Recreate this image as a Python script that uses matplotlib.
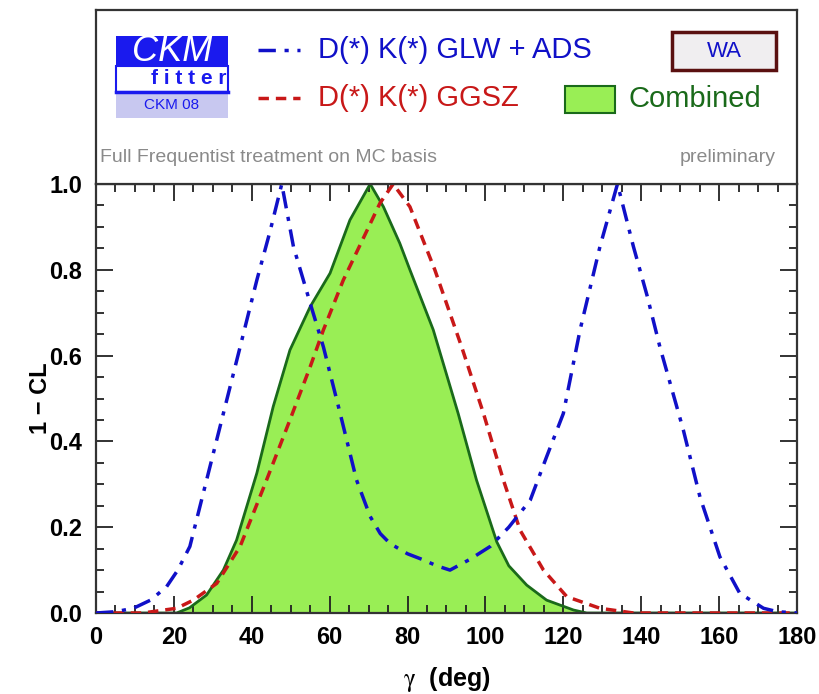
#!/usr/bin/env python3
"""
CKMfitter gamma scan: 1 - CL vs gamma for D(*)K(*) GLW+ADS, GGSZ and combined
"""
import numpy as np
import matplotlib
matplotlib.use('Agg')
import matplotlib.pyplot as plt
from matplotlib.patches import Rectangle
from matplotlib.ticker import MultipleLocator, FormatStrFormatter

plt.rcParams['font.family'] = ['Liberation Sans', 'DejaVu Sans']
plt.rcParams['mathtext.fontset'] = 'stix'
NARROW = ['Liberation Sans Narrow', 'Liberation Sans', 'DejaVu Sans']

# --- data ---
glw_x = [0, 5, 9.6, 14, 18.1, 21, 24.1, 28.4, 32.7, 37, 41.3, 44.7, 47.7, 50.7, 55.4,
         58.4, 62.7, 66.9, 70.4, 73, 75.5, 80, 84, 87.5, 90.9, 96, 101.2, 106, 111.5, 115.7, 120,
         124.3, 129.4, 133.9, 138, 141.5, 144.8, 150.8, 155.1, 160.2, 165.3, 171.4, 175, 180]
glw_y = [0, 0.003, 0.011, 0.03, 0.061, 0.1, 0.155, 0.31, 0.465, 0.62, 0.776, 0.89, 1.0, 0.854, 0.71,
         0.62, 0.465, 0.31, 0.225, 0.185, 0.162, 0.138, 0.124, 0.11, 0.10, 0.125, 0.155, 0.2, 0.263,
         0.364, 0.465, 0.66, 0.854, 1.0, 0.854, 0.74, 0.62, 0.427, 0.27, 0.131, 0.046, 0.011, 0.003, 0]

ggsz_x = [0, 12, 20.7, 25, 31, 37, 43.8, 49.8, 55, 58.4, 63.5, 69.5, 72.9, 76.3, 80.6,
          87, 93.9, 99.5, 104.6, 108.9, 114.9, 120.9, 129.4, 138, 180]
ggsz_y = [0, 0, 0.011, 0.03, 0.069, 0.155, 0.31, 0.45, 0.574, 0.66, 0.776, 0.89, 0.955, 1.0, 0.947,
          0.8, 0.62, 0.465, 0.31, 0.193, 0.10, 0.038, 0.011, 0, 0]

comb_x = [0, 20.7, 24, 28.4, 32.7, 36.1, 41.3, 45.5, 49.8, 55, 60.1, 65.2, 70.4, 73.8, 78,
          80.6, 86.6, 93, 97.7, 102.9, 106, 110.6, 115.7, 122.6, 126, 180]
comb_y = [0, 0, 0.012, 0.042, 0.1, 0.17, 0.326, 0.481, 0.613, 0.714, 0.792, 0.916, 1.0, 0.947, 0.862,
          0.8, 0.66, 0.465, 0.31, 0.166, 0.11, 0.065, 0.03, 0.007, 0, 0]

BLUE = '#1010c8'
RED = '#c81818'
GREEN_FILL = '#99ee55'
GREEN_EDGE = '#1a6a1a'
GLW_LS = (0, (5, 2.5, 1.2, 2.5))
GGSZ_LS = (0, (3, 2))

fig = plt.figure(figsize=(8.2, 6.94), dpi=100)

# --- main plot ---
ax = fig.add_axes([96/820, 81/694, 701/820, 429/694])
ax.fill_between(comb_x, comb_y, 0, color=GREEN_FILL, lw=0, zorder=1)
ax.plot(comb_x, comb_y, color=GREEN_EDGE, lw=2, zorder=2)
ax.plot(ggsz_x, ggsz_y, color=RED, lw=2.5, ls=GGSZ_LS, zorder=3)
ax.plot(glw_x, glw_y, color=BLUE, lw=2.5, ls=GLW_LS, zorder=4)

ax.set_xlim(0, 180)
ax.set_ylim(0, 1.0)
ax.xaxis.set_major_locator(MultipleLocator(20))
ax.xaxis.set_minor_locator(MultipleLocator(5))
ax.yaxis.set_major_locator(MultipleLocator(0.2))
ax.yaxis.set_minor_locator(MultipleLocator(0.05))
ax.yaxis.set_major_formatter(FormatStrFormatter('%.1f'))
ax.tick_params(which='both', direction='in', top=True, right=True, color='#222222', width=1.3)
ax.tick_params(which='major', length=12)
ax.tick_params(which='minor', length=6)
ax.tick_params(axis='x', which='major', pad=9)
ax.tick_params(axis='y', which='major', pad=10)
for lab in ax.get_xticklabels() + ax.get_yticklabels():
    lab.set_fontweight('bold')
    lab.set_family(NARROW)
    lab.set_fontsize(17)
for s in ax.spines.values():
    s.set_linewidth(1.6)
    s.set_color('#333333')

ax.set_xlabel(r'$\mathrm{\gamma}$  (deg)', fontsize=18, fontweight='bold', labelpad=12, family=NARROW)
ax.set_ylabel('1 \u2212 CL', fontsize=17, fontweight='bold', labelpad=-2, family=NARROW)

# --- header box ---
hx = fig.add_axes([96/820, 510/694, 701/820, 174/694])
hx.set_xlim(0, 1); hx.set_ylim(0, 1)
hx.set_xticks([]); hx.set_yticks([])
for s in hx.spines.values():
    s.set_linewidth(1.6)
    s.set_color('#333333')

# CKMfitter logo
hx.add_patch(Rectangle((0.0285, 0.678), 0.16, 0.173, color='#1a1aee', lw=0))
hx.add_patch(Rectangle((0.0285, 0.53), 0.16, 0.148, facecolor='white', edgecolor='#1a1aee', lw=1.5))
hx.plot([0.0285, 0.1885], [0.53, 0.53], color='#1a1aee', lw=2.5)
hx.add_patch(Rectangle((0.0285, 0.379), 0.16, 0.148, color='#c8c8f0', lw=0))
hx.text(0.108, 0.762, 'CKM', color='white', fontsize=26, style='italic', ha='center', va='center')
hx.text(0.186, 0.605, 'f i t t e r', color='#1a1aee', fontsize=15, fontweight='bold',
        ha='right', va='center')
hx.text(0.108, 0.452, 'CKM 08', color='#1a1aee', fontsize=11, ha='center', va='center',
        family=NARROW)

# legend entries
hx.plot([0.231, 0.291], [0.77, 0.77], color=BLUE, lw=2.5, ls=GLW_LS)
hx.text(0.317, 0.77, 'D(*) K(*) GLW + ADS', color=BLUE, fontsize=21, ha='left', va='center')
hx.plot([0.231, 0.291], [0.494, 0.494], color=RED, lw=2.5, ls=GGSZ_LS)
hx.text(0.317, 0.494, 'D(*) K(*) GGSZ', color=RED, fontsize=21, ha='left', va='center')
hx.add_patch(Rectangle((0.669, 0.408), 0.071, 0.155, facecolor=GREEN_FILL, edgecolor=GREEN_EDGE, lw=1.5))
hx.text(0.759, 0.489, 'Combined', color=GREEN_EDGE, fontsize=21, ha='left', va='center')

# WA box
hx.add_patch(Rectangle((0.822, 0.655), 0.148, 0.219, facecolor='#f0eef0', edgecolor='#5a1010', lw=2.5))
hx.text(0.896, 0.762, 'WA', color=BLUE, fontsize=16, ha='center', va='center')

hx.text(0.006, 0.155, 'Full Frequentist treatment on MC basis', color='#8a8a8a', fontsize=14,
        ha='left', va='center')
hx.text(0.97, 0.155, 'preliminary', color='#8a8a8a', fontsize=14, ha='right', va='center')

plt.savefig('out.png', dpi=100)
